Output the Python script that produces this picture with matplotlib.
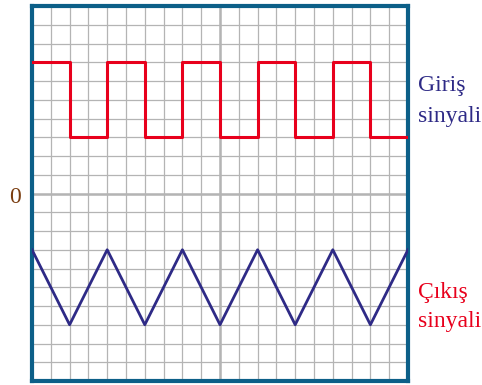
import matplotlib
matplotlib.use("Agg")
import matplotlib.pyplot as plt

# giriş: kare dalga (köşe noktaları, ızgara birimi)
kare_x = [0, 2, 2, 4, 4, 6, 6, 8, 8, 10, 10, 12, 12, 14, 14, 16, 16, 18, 18, 20]
kare_y = [7, 7, 3, 3, 7, 7, 3, 3, 7, 7, 3, 3, 7, 7, 3, 3, 7, 7, 3, 3]

# çıkış: üçgen dalga
ucgen_x = [0, 2, 4, 6, 8, 10, 12, 14, 16, 18, 20]
ucgen_y = [-3, -7, -3, -7, -3, -7, -3, -7, -3, -7, -3]

giris_renk = "#e8001c"
cikis_renk = "#2e2a86"
yazi_font = "Liberation Serif"

fig = plt.figure(figsize=(4.82, 3.85), dpi=100)
ax = fig.add_axes([32 / 482, 4 / 385, 376 / 482, 375 / 385])

# ızgara
for i in range(1, 20):
    ax.axvline(i, color="#b4b4b4", lw=0.9, zorder=1)
for j in range(-9, 10):
    ax.axhline(j, color="#b4b4b4", lw=0.9, zorder=1)
ax.axvline(10, color="#b4b4b4", lw=1.8, zorder=1)
ax.axhline(0, color="#b4b4b4", lw=1.8, zorder=1)

ax.plot(kare_x, kare_y, color=giris_renk, lw=2.2, zorder=3)
ax.plot(ucgen_x, ucgen_y, color=cikis_renk, lw=2.0, zorder=3)

ax.set_xlim(0, 20)
ax.set_ylim(-10, 10)
ax.set_xticks([])
ax.set_yticks([])
for s in ax.spines.values():
    s.set_color("#0c5f88")
    s.set_linewidth(3.0)

yazi = dict(fontsize=17, family=yazi_font, ha="left", va="baseline", clip_on=False)
ax.text(20.55, 5.45, "Giriş", color=cikis_renk, **yazi)
ax.text(20.55, 3.8, "sinyali", color=cikis_renk, **yazi)
ax.text(20.55, -5.56, "Çıkış", color=giris_renk, **yazi)
ax.text(20.55, -7.1, "sinyali", color=giris_renk, **yazi)
ax.text(-0.9, -0.5, "0", color="#7a3d10", fontsize=17, family=yazi_font,
        ha="center", va="baseline", clip_on=False)

fig.savefig("out.png", dpi=100)
